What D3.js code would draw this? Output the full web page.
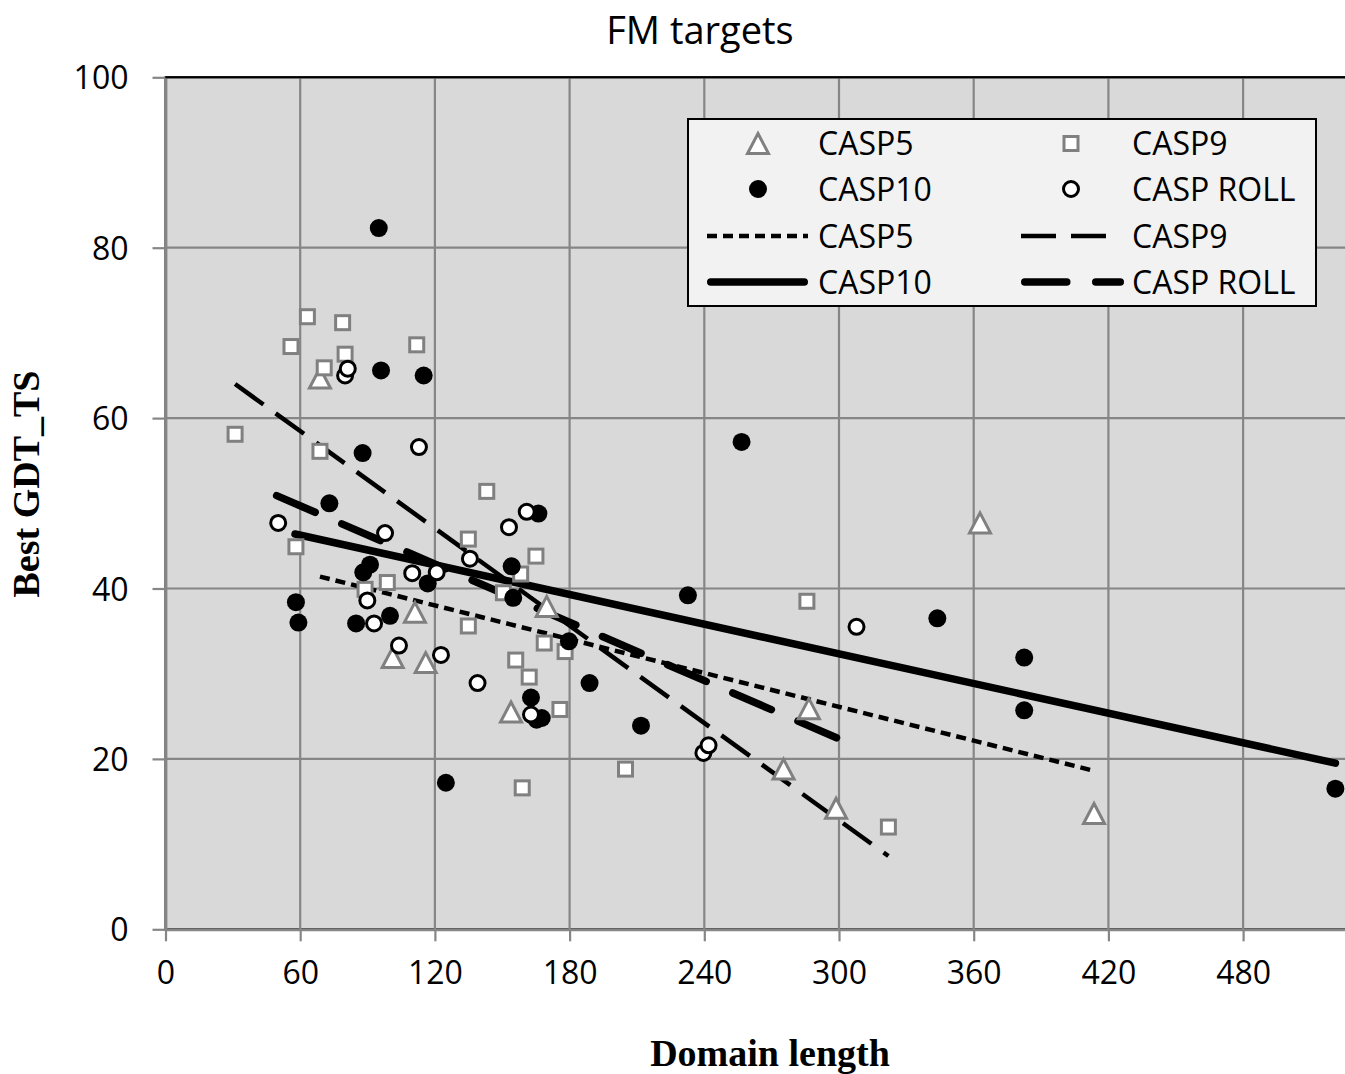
<!DOCTYPE html>
<html>
<head>
<meta charset="utf-8">
<script src="https://cdn.jsdelivr.net/npm/d3@7"></script>
<style>
  html, body { margin: 0; padding: 0; background: #fff; overflow: hidden; }
  svg { display: block; }
</style>
</head>
<body>
<div id="chart"></div>
<script>
// series: [domain length, best GDT_TS]
const casp5 = [[68.8,64.7],[111.1,37.2],[101.2,31.9],[115.9,31.3],[169.8,37.9],[153.9,25.5],
  [362.8,47.7],[286.6,25.9],[275.3,18.8],[298.7,14.2],[413.6,13.6]];
const casp9 = [[63.2,71.9],[78.9,71.2],[55.9,68.4],[80.0,67.5],[111.9,68.6],[70.7,65.9],
  [31.0,58.1],[68.8,56.1],[58.1,44.9],[143.1,51.4],[134.9,45.8],[165.0,43.8],[158.2,41.7],
  [98.8,40.7],[88.9,39.9],[150.5,39.5],[134.9,35.6],[168.7,33.6],[178.0,32.6],[156.0,31.6],
  [162.0,29.6],[175.7,25.8],[204.9,18.8],[158.9,16.6],[285.7,38.5],[322.0,12.0]];
const casp10 = [[96.0,65.6],[115.0,65.0],[95.0,82.3],[87.8,55.9],[73.0,50.0],[256.6,57.2],
  [166.1,48.8],[154.2,42.6],[154.9,38.9],[91.1,42.8],[88.1,41.9],[116.8,40.6],[58.1,38.4],
  [59.2,36.0],[84.9,35.9],[100.0,36.8],[179.7,33.8],[188.9,28.9],[162.8,27.2],[167.6,24.8],
  [165.3,24.6],[211.8,23.9],[124.9,17.2],[232.7,39.2],[343.8,36.5],[382.5,31.9],[382.5,25.7],
  [521.1,16.5]];
const caspRoll = [[80.0,65.0],[81.2,65.8],[112.9,56.6],[50.2,47.7],[97.8,46.5],[153.0,47.2],
  [160.9,49.0],[135.6,43.5],[109.9,41.8],[120.8,41.9],[89.9,38.6],[92.9,35.9],[104.0,33.3],
  [122.7,32.2],[139.0,28.9],[162.8,25.2],[239.6,20.7],[241.9,21.6],[307.8,35.5]];

// linear trendlines, start and end
const trend5 = [[68.8,41.4],[413.6,18.6]];
const trend9 = [[31.0,64.0],[322.0,8.6]];
const trend10 = [[57.7,46.4],[521.1,19.5]];
const trendRoll = [[49.5,50.9],[305.7,21.7]];

const xTicks = [0,60,120,180,240,300,360,420,480];
const yTicks = [0,20,40,60,80,100];

const W = 1345, H = 1074;
const FONT = "'Open Sans', 'Liberation Sans', sans-serif";
const GRID = "#868686";

const svg = d3.select("#chart").append("svg")
  .attr("width", W).attr("height", H);

const x = d3.scaleLinear().domain([0, 540]).range([165.5, 1377.8]);
const y = d3.scaleLinear().domain([0, 100]).range([929.3, 77.3]);

// plot area
svg.append("rect")
  .attr("x", x(0)).attr("y", y(100))
  .attr("width", x(540) - x(0)).attr("height", y(0) - y(100))
  .attr("fill", "#d9d9d9").attr("stroke", "#000").attr("stroke-width", 2);

// grid
svg.append("g").selectAll("line").data(d3.range(60, 541, 60)).enter().append("line")
  .attr("x1", d => x(d)).attr("x2", d => x(d))
  .attr("y1", y(0)).attr("y2", y(100))
  .attr("stroke", GRID).attr("stroke-width", 2.2);
svg.append("g").selectAll("line").data(yTicks.slice(1, -1)).enter().append("line")
  .attr("x1", x(0)).attr("x2", x(540))
  .attr("y1", d => y(d)).attr("y2", d => y(d))
  .attr("stroke", GRID).attr("stroke-width", 2.2);

// axes
const xAxis = svg.append("g").attr("transform", `translate(0,${y(0)})`)
  .call(d3.axisBottom(x).tickValues(xTicks).tickSize(12).tickPadding(20).tickSizeOuter(0));
const yAxis = svg.append("g").attr("transform", `translate(${x(0)},0)`)
  .call(d3.axisLeft(y).tickValues(yTicks).tickSize(13).tickPadding(24).tickSizeOuter(0));
[xAxis, yAxis].forEach(a => {
  a.select(".domain").attr("stroke", GRID).attr("stroke-width", 2.8);
  a.selectAll(".tick line").attr("stroke", GRID).attr("stroke-width", 2.2);
  a.selectAll(".tick text").attr("fill", "#000")
    .style("font-family", FONT).style("font-size", "32px");
});
yAxis.selectAll(".tick text").attr("dy", "0.36em");
// top border stays black
svg.append("line").attr("x1", x(0)).attr("x2", W).attr("y1", y(100)).attr("y2", y(100))
  .attr("stroke", "#000").attr("stroke-width", 2);

// trendlines
const lineGen = d3.line().x(d => x(d[0])).y(d => y(d[1]));
const lineStyles = {
  c5:   { w: 4.5, dash: "10 6", cap: "butt", legendEnd: 808 },
  c9:   { w: 4.5, dash: "35 15", cap: "butt", legendEnd: 1108 },
  c10:  { w: 7.5, dash: null, cap: "round", legendEnd: 808 },
  roll: { w: 7.5, dash: "42 29", cap: "round", legendEnd: 1124 }
};
function styleLine(sel, s) {
  sel.attr("fill", "none").attr("stroke", "#000")
    .attr("stroke-width", s.w).attr("stroke-linecap", s.cap);
  if (s.dash) sel.attr("stroke-dasharray", s.dash);
  return sel;
}
styleLine(svg.append("path").attr("d", lineGen(trend5)), lineStyles.c5);
styleLine(svg.append("path").attr("d", lineGen(trend9)), lineStyles.c9);
styleLine(svg.append("path").attr("d", lineGen(trendRoll)), lineStyles.roll);
styleLine(svg.append("path").attr("d", lineGen(trend10)), lineStyles.c10);

// markers
function triangle(g, k) {
  return g.append("path").attr("d", `M0,${-10*k}L${10.5*k},${10*k}L${-10.5*k},${10*k}Z`)
    .attr("fill", "#fff").attr("stroke", "#808080").attr("stroke-width", 3)
    .attr("stroke-linejoin", "miter");
}
function square(g, k) {
  return g.append("rect").attr("x", -7*k).attr("y", -7*k).attr("width", 14*k).attr("height", 14*k)
    .attr("fill", "#fff").attr("stroke", "#808080").attr("stroke-width", 3);
}
function dot(g, k) {
  return g.append("circle").attr("r", 9*k).attr("fill", "#000");
}
function ring(g, k) {
  return g.append("circle").attr("r", 7.5*k).attr("fill", "#fff")
    .attr("stroke", "#000").attr("stroke-width", 3);
}

function drawSeries(data, shape) {
  svg.append("g").selectAll("g").data(data).enter().append("g")
    .attr("transform", d => `translate(${x(d[0])},${y(d[1])})`)
    .each(function() { shape(d3.select(this), 1); });
}
drawSeries(casp5, triangle);
drawSeries(casp9, square);
drawSeries(casp10, dot);
drawSeries(caspRoll, ring);

// legend
const lg = svg.append("g");
lg.append("rect").attr("x", 688).attr("y", 119).attr("width", 628).attr("height", 187)
  .attr("fill", "#f2f2f2").attr("stroke", "#000").attr("stroke-width", 2);
const legendItems = [
  { label: "CASP5", col: 0, row: 0, marker: triangle },
  { label: "CASP9", col: 1, row: 0, marker: square },
  { label: "CASP10", col: 0, row: 1, marker: dot },
  { label: "CASP ROLL", col: 1, row: 1, marker: ring },
  { label: "CASP5", col: 0, row: 2, line: lineStyles.c5 },
  { label: "CASP9", col: 1, row: 2, line: lineStyles.c9 },
  { label: "CASP10", col: 0, row: 3, line: lineStyles.c10 },
  { label: "CASP ROLL", col: 1, row: 3, line: lineStyles.roll }
];
const colX = [{ sym: 758, l0: 707, txt: 818 }, { sym: 1071, l0: 1021, txt: 1132 }];
const rowY = [143.5, 189, 236, 282];
legendItems.forEach(it => {
  const c = colX[it.col], ry = rowY[it.row];
  if (it.marker) {
    it.marker(lg.append("g").attr("transform", `translate(${c.sym},${ry})`), 1);
  } else {
    const s = it.line;
    const inset = s.cap === "round" ? s.w / 2 : 0;
    styleLine(lg.append("line").attr("x1", c.l0 + inset).attr("x2", s.legendEnd - inset)
      .attr("y1", ry).attr("y2", ry), s);
  }
  lg.append("text").attr("x", c.txt).attr("y", ry).attr("dy", "0.36em")
    .style("font-family", FONT).style("font-size", "32px").text(it.label);
});

// titles
svg.append("text").attr("x", 700).attr("y", 44).attr("text-anchor", "middle")
  .style("font-family", FONT).style("font-size", "38px").text("FM targets");
svg.append("text").attr("x", 770).attr("y", 1066).attr("text-anchor", "middle")
  .style("font-family", "'Liberation Serif', 'Times New Roman', serif")
  .style("font-weight", "bold").style("font-size", "38px").text("Domain length");
svg.append("text").attr("transform", "translate(39,484) rotate(-90)").attr("text-anchor", "middle")
  .style("font-family", "'Liberation Serif', 'Times New Roman', serif")
  .style("font-weight", "bold").style("font-size", "38px").text("Best GDT_TS");
</script>
</body>
</html>
